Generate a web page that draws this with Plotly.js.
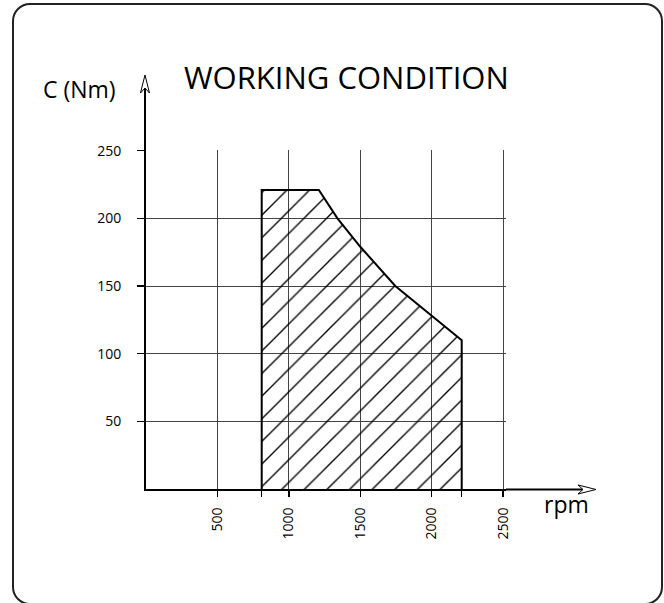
<!DOCTYPE html>
<html><head><meta charset="utf-8">
<script src="https://cdn.plot.ly/plotly-3.0.1.min.js"></script>
<style>
html,body{margin:0;padding:0;background:#fff;}
#wrap{position:relative;width:664px;height:603px;overflow:hidden;}
#chart{position:absolute;left:0;top:0;width:664px;height:603px;}
#frame{position:absolute;left:11.5px;top:3px;width:651px;height:602px;box-sizing:border-box;border:2px solid #222;border-radius:18px;pointer-events:none;}
</style></head><body>
<div id="wrap"><div id="chart"></div><div id="frame"></div></div>
<script>
// ---- data ----
const speedRpm  = [810, 810, 1210, 1340, 1500, 1655, 1745, 2000, 2210, 2210];
const torqueNm  = [0,   221, 221,  200,  179,  161,  150,  128,  110,  0];
const xTicks = [500, 1000, 1500, 2000, 2500];
const xTickLabels = ['500', '1000', '1500', '2000', '2500'];
const yTicks = [50, 100, 150, 200, 250];
const yTickLabels = ['50', '100', '150', '200', '250'];
const chartTitle = 'WORKING CONDITION';
const yLabel = 'C (Nm)';
const xLabel = 'rpm';

// ---- layout helpers ----
const W = 664, H = 603;
const M = {l: 146, r: 158, t: 150, b: 114};
const PW = W - M.l - M.r, PH = H - M.t - M.b;
const px = x => (x - M.l) / PW;
const py = y => (H - M.b - y) / PH;
const FONT = 'Open Sans, Liberation Sans, sans-serif';

function pathFromPx(pts, close) {
  return pts.map((p, i) => (i ? 'L' : 'M') + px(p[0]).toFixed(5) + ',' + py(p[1]).toFixed(5)).join(' ') + (close ? ' Z' : '');
}

const traces = [{
  type: 'scatter',
  mode: 'lines',
  x: speedRpm,
  y: torqueNm,
  fill: 'toself',
  fillcolor: 'rgba(0,0,0,0)',
  fillpattern: {shape: '/', size: 16, solidity: 0.085, fgcolor: 'black', bgcolor: 'rgba(0,0,0,0)'},
  line: {color: 'black', width: 2},
  hoverinfo: 'skip'
}];

const shapes = [
  // y-axis extension + arrow
  {type: 'line', xref: 'paper', yref: 'paper', x0: px(145), x1: px(145), y0: 1, y1: py(84), line: {color: 'black', width: 2}},
  {type: 'path', xref: 'paper', yref: 'paper', path: pathFromPx([[140.5, 93], [145, 75], [149.5, 93], [145, 88]], true), fillcolor: 'white', line: {color: 'black', width: 1}},
  // x-axis extension + arrow
  {type: 'line', xref: 'paper', yref: 'paper', x0: 1, x1: px(586), y0: py(489.5), y1: py(489.5), line: {color: 'black', width: 2}},
  {type: 'path', xref: 'paper', yref: 'paper', path: pathFromPx([[578, 485], [596, 489.5], [578, 494], [583, 489.5]], true), fillcolor: 'white', line: {color: 'black', width: 1}}
];

const annotations = [
  {text: chartTitle, xref: 'paper', yref: 'paper', x: px(182), y: py(77), xanchor: 'left', yanchor: 'middle', showarrow: false, font: {family: FONT, size: 31, color: 'black'}},
  {text: yLabel, xref: 'paper', yref: 'paper', x: px(41), y: py(89), xanchor: 'left', yanchor: 'middle', showarrow: false, font: {family: FONT, size: 23, color: 'black'}},
  {text: xLabel, xref: 'paper', yref: 'paper', x: px(542), y: py(504), xanchor: 'left', yanchor: 'middle', showarrow: false, font: {family: FONT, size: 23, color: 'black'}}
];

const layout = {
  width: W, height: H,
  margin: {l: M.l, r: M.r, t: M.t, b: M.b, pad: 0},
  paper_bgcolor: 'white', plot_bgcolor: 'white',
  showlegend: false,
  xaxis: {
    range: [0, 2520], tickmode: 'array', tickvals: xTicks, ticktext: xTickLabels,
    tickangle: -90, ticks: 'outside', ticklen: 6, tickwidth: 1.5, tickcolor: 'black',
    showline: true, linewidth: 2, linecolor: 'black',
    showgrid: true, gridcolor: '#444', gridwidth: 1, zeroline: false,
    tickfont: {family: FONT, size: 14, color: 'black'}, ticklabelstandoff: 5,
    minor: {tickmode: 'array', tickvals: [speedRpm[0], speedRpm[speedRpm.length - 1]], ticks: 'outside', ticklen: 6, tickwidth: 1.5, tickcolor: 'black', showgrid: false}
  },
  yaxis: {
    range: [0, 250.5], tickmode: 'array', tickvals: yTicks, ticktext: yTickLabels,
    ticks: 'outside', ticklen: 7, tickwidth: 1.5, tickcolor: 'black',
    showline: true, linewidth: 2, linecolor: 'black',
    showgrid: true, gridcolor: '#444', gridwidth: 1, zeroline: false,
    tickfont: {family: FONT, size: 14, color: 'black'}, ticklabelstandoff: 13
  },
  shapes: shapes,
  annotations: annotations
};

Plotly.newPlot('chart', traces, layout, {staticPlot: true, displayModeBar: false});
</script>
</body></html>
